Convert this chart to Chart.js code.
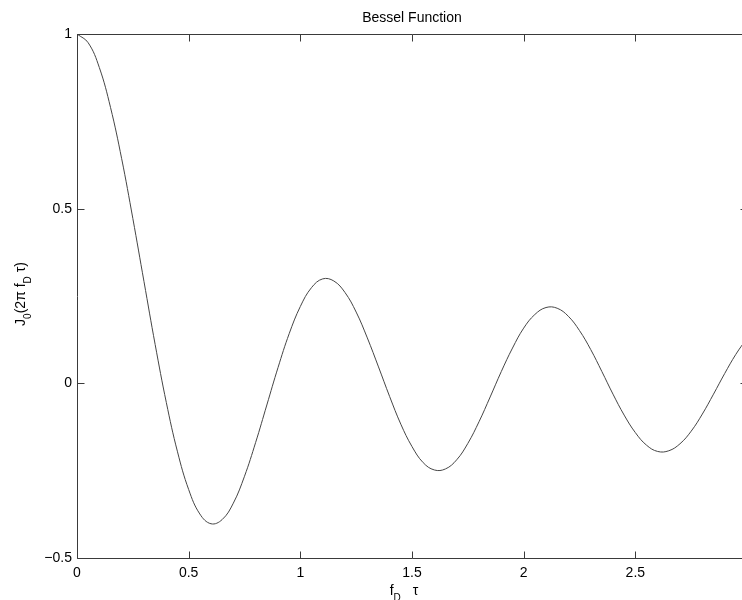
<!DOCTYPE html>
<html>
<head>
<meta charset="utf-8">
<title>Bessel Function</title>
<script src="https://cdn.jsdelivr.net/npm/chart.js@4/dist/chart.umd.min.js"></script>
<style>
  html, body { margin: 0; padding: 0; background: #fff; overflow: hidden; }
  canvas { display: block; }
</style>
</head>
<body>
<canvas id="bessel" width="760" height="600"></canvas>
<script>
(function() {
  'use strict';

  // f_D * tau, sampled every 0.05
  var tau = [
    0.00, 0.05, 0.10, 0.15, 0.20, 0.25, 0.30, 0.35, 0.40, 0.45,
    0.50, 0.55, 0.60, 0.65, 0.70, 0.75, 0.80, 0.85, 0.90, 0.95,
    1.00, 1.05, 1.10, 1.15, 1.20, 1.25, 1.30, 1.35, 1.40, 1.45,
    1.50, 1.55, 1.60, 1.65, 1.70, 1.75, 1.80, 1.85, 1.90, 1.95,
    2.00, 2.05, 2.10, 2.15, 2.20, 2.25, 2.30, 2.35, 2.40, 2.45,
    2.50, 2.55, 2.60, 2.65, 2.70, 2.75, 2.80, 2.85, 2.90, 2.95,
    3.00
  ];

  // J0(2 pi f_D tau) at each sample
  var j0 = [
     1.000,  0.975,  0.904,  0.790,  0.643,  0.472,  0.291,  0.111, -0.055, -0.196,
    -0.304, -0.374, -0.402, -0.390, -0.343, -0.266, -0.169, -0.062,  0.045,  0.142,
     0.220,  0.274,  0.299,  0.293,  0.260,  0.204,  0.130,  0.047, -0.038, -0.117,
    -0.181, -0.227, -0.248, -0.245, -0.219, -0.172, -0.110, -0.039,  0.034,  0.101,
     0.158,  0.197,  0.217,  0.215,  0.192,  0.151,  0.097,  0.034, -0.031, -0.091,
    -0.141, -0.177, -0.195, -0.193, -0.173, -0.137, -0.088, -0.031,  0.028,  0.083,
     0.129
  ];

  var xTickValues = [0, 0.5, 1, 1.5, 2, 2.5, 3];
  var yTickValues = [-0.5, 0, 0.5, 1];

  var titleText = 'Bessel Function';
  var xLabelParts = [
    {t: 'f'}, {t: 'D', sub: true}, {t: '\u03c4', gap: 12}
  ];
  var yLabelParts = [
    {t: 'J'}, {t: '0', sub: true}, {t: '(2\u03c0 f'}, {t: 'D', sub: true}, {t: ' \u03c4)'}
  ];

  var FONT = "'Liberation Sans', Arial, Helvetica, sans-serif";
  var AXIS = '#3a3a3a';
  var TICK_LEN = 7;

  var points = tau.map(function(x, i) { return {x: x, y: j0[i]}; });

  // text with subscripts, centred on (0,0) of the current transform
  function drawParts(ctx, parts) {
    var total = 0;
    parts.forEach(function(p) {
      ctx.font = (p.sub ? '10px ' : '14px ') + FONT;
      p.w = ctx.measureText(p.t).width;
      total += p.w + (p.gap || 0);
    });
    var x = -total / 2;
    parts.forEach(function(p) {
      x += p.gap || 0;
      ctx.font = (p.sub ? '10px ' : '14px ') + FONT;
      ctx.fillText(p.t, x, p.sub ? 6 : 0);
      x += p.w;
    });
  }

  var matlabFrame = {
    id: 'matlabFrame',
    afterDraw: function(chart) {
      var ctx = chart.ctx;
      var a = chart.chartArea;
      var xs = chart.scales.x, ys = chart.scales.y;
      var l = Math.round(a.left) + 0.5, r = Math.round(a.right) + 0.5;
      var t = Math.round(a.top) + 0.5, b = Math.round(a.bottom) + 0.5;

      ctx.save();
      ctx.strokeStyle = AXIS;
      ctx.lineWidth = 1;
      ctx.beginPath();
      ctx.rect(l, t, r - l, b - t);

      // inward ticks on all four sides
      xTickValues.forEach(function(v) {
        var px = Math.round(xs.getPixelForValue(v)) + 0.5;
        ctx.moveTo(px, b); ctx.lineTo(px, b - TICK_LEN);
        ctx.moveTo(px, t); ctx.lineTo(px, t + TICK_LEN);
      });
      yTickValues.forEach(function(v) {
        var py = Math.round(ys.getPixelForValue(v)) + 0.5;
        ctx.moveTo(l, py); ctx.lineTo(l + TICK_LEN, py);
        ctx.moveTo(r, py); ctx.lineTo(r - TICK_LEN, py);
      });
      ctx.stroke();

      ctx.fillStyle = '#000';
      ctx.textBaseline = 'alphabetic';
      ctx.textAlign = 'left';

      // title
      ctx.font = '14px ' + FONT;
      ctx.textAlign = 'center';
      ctx.fillText(titleText, (a.left + a.right) / 2, 22);
      ctx.textAlign = 'left';

      // x label
      ctx.save();
      ctx.translate(404, 595);
      drawParts(ctx, xLabelParts);
      ctx.restore();

      // y label, rotated
      ctx.save();
      ctx.translate(25, 294);
      ctx.rotate(-Math.PI / 2);
      drawParts(ctx, yLabelParts);
      ctx.restore();

      ctx.restore();
    }
  };

  function fmt(v) {
    return String(v).replace('-', '\u2212');
  }

  new Chart(document.getElementById('bessel'), {
    type: 'line',
    data: {
      datasets: [{
        data: points,
        borderColor: '#454545',
        borderWidth: 1,
        pointRadius: 0,
        tension: 0.4,
        fill: false
      }]
    },
    options: {
      responsive: false,
      animation: false,
      events: [],
      layout: { padding: { top: 34, right: 13, left: 0, bottom: 0 } },
      plugins: {
        legend: { display: false },
        title: { display: false },
        tooltip: { enabled: false }
      },
      scales: {
        x: {
          type: 'linear',
          min: 0,
          max: 3,
          afterBuildTicks: function(s) {
            s.ticks = xTickValues.map(function(v) { return {value: v}; });
          },
          afterFit: function(s) { s.height = 42; },
          grid: { display: false, drawTicks: false },
          border: { display: false },
          ticks: {
            autoSkip: false,
            maxRotation: 0,
            padding: 7,
            color: '#000',
            font: { family: FONT, size: 14 },
            callback: fmt
          }
        },
        y: {
          type: 'linear',
          min: -0.5,
          max: 1,
          afterBuildTicks: function(s) {
            s.ticks = yTickValues.map(function(v) { return {value: v}; });
          },
          afterFit: function(s) { s.width = 77; },
          grid: { display: false, drawTicks: false },
          border: { display: false },
          ticks: {
            autoSkip: false,
            padding: 5,
            color: '#000',
            font: { family: FONT, size: 14 },
            callback: fmt
          }
        }
      }
    },
    plugins: [matlabFrame]
  });
})();
</script>
</body>
</html>
